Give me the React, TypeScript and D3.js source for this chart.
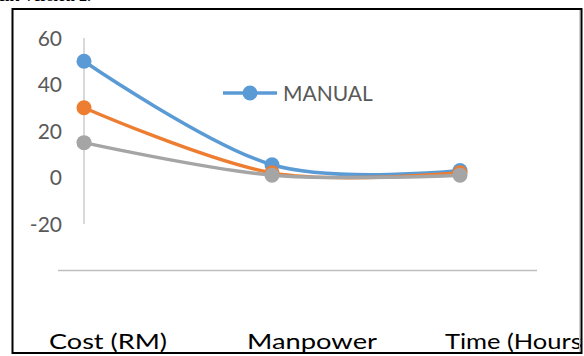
import React from "react";
import * as d3 from "d3";

const categories = ["Cost (RM)", "Manpower", "Time (Hours)"];
const seriesNames = ["MANUAL", "SEMI-AUTO", "AUTO"];
const manual = [50, 5.5, 3];
const semiAuto = [30, 2, 2];
const auto = [15, 1, 1];
const yTicks = [60, 40, 20, 0, -20];
const colors = ["#5B9BD5", "#ED7D31", "#A5A5A5"];
const labelWidths = [118, 130, 143];

export default function App() {
  const W = 584;
  const H = 356;
  const x = d3.scalePoint<string>().domain(categories).range([84, 460]);
  const xLabel = d3.scalePoint<string>().domain(categories).range([49, 445]);
  const y = d3.scaleLinear().domain([-20, 60]).range([224, 38]);
  const series = [manual, semiAuto, auto];
  const line = d3
    .line<number>()
    .x((_, i) => x(categories[i]) as number)
    .y((d) => y(d))
    .curve(d3.curveCatmullRom.alpha(0));
  const font = "Lato, 'Open Sans', sans-serif";

  return (
    <svg
      width={W}
      height={H}
      style={{ position: "fixed", left: 0, top: 0, background: "#fff" }}
    >
      <defs>
        <clipPath id="box">
          <rect x={13} y={10} width={568} height={343} />
        </clipPath>
      </defs>
      <text
        x={-2}
        y={1}
        fontFamily="'Liberation Serif', serif"
        fontSize={16}
        fontWeight="bold"
        fill="#000"
      >
        ent Version 2.
      </text>
      <g clipPath="url(#box)">
        <line x1={84} x2={84} y1={y(60)} y2={y(-20)} stroke="#D9D9D9" strokeWidth={2} />
        <line x1={58} x2={537} y1={y(-40)} y2={y(-40)} stroke="#BFBFBF" strokeWidth={1.5} />
        {yTicks.map((t) => (
          <text
            key={t}
            x={62}
            y={y(t)}
            dy="0.36em"
            textAnchor="end"
            fontFamily={font}
            fontSize={21}
            fill="#595959"
          >
            {t}
          </text>
        ))}
        {series.map((s, si) => (
          <g key={si}>
            <path d={line(s) || ""} fill="none" stroke={colors[si]} strokeWidth={3.5} />
            {s.map((v, i) => (
              <circle key={i} cx={x(categories[i])} cy={y(v)} r={7.5} fill={colors[si]} />
            ))}
          </g>
        ))}
        <line x1={223} x2={277} y1={93} y2={93} stroke={colors[0]} strokeWidth={3.5} />
        <circle cx={250} cy={93} r={7.5} fill={colors[0]} />
        <text x={283} y={101} fontFamily={font} fontSize={21} fill="#595959">
          {seriesNames[0]}
        </text>
        {categories.map((c, i) => (
          <text
            key={c}
            x={xLabel(c)}
            y={349}
            fontFamily={font}
            fontSize={22}
            fontWeight={400}
            fill="#000"
            textLength={labelWidths[i]}
            lengthAdjust="spacingAndGlyphs"
          >
            {c}
          </text>
        ))}
      </g>
      <line x1={579.5} x2={579.5} y1={10} y2={353} stroke="#D0D0D0" strokeWidth={1} />
      <rect x={12.5} y={9} width={569} height={344} fill="none" stroke="#000" strokeWidth={2} />
    </svg>
  );
}
